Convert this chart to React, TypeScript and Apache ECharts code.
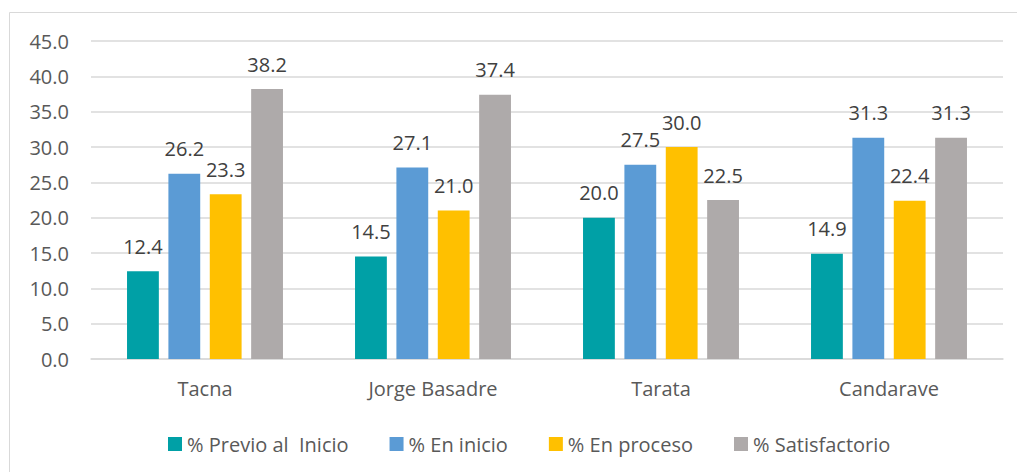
import React, { useEffect, useRef } from "react";
import * as echarts from "echarts";

const categories = ["Tacna", "Jorge Basadre", "Tarata", "Candarave"];
const seriesNames = ["% Previo al  Inicio", "% En inicio", "% En proceso", "% Satisfactorio"];
const previoInicio = [12.4, 14.5, 20.0, 14.9];
const enInicio = [26.2, 27.1, 27.5, 31.3];
const enProceso = [23.3, 21.0, 30.0, 22.4];
const satisfactorio = [38.2, 37.4, 22.5, 31.3];
const colors = ["#00A0A6", "#5B9BD5", "#FFC000", "#AEAAAA"];

const FONT = "Open Sans";
const TXT = "#595959";

export default function App() {
  const ref = useRef<HTMLDivElement>(null);
  useEffect(() => {
    if (!ref.current) return;
    const chart = echarts.init(ref.current, undefined, { renderer: "svg" });
    const data = [previoInicio, enInicio, enProceso, satisfactorio];
    chart.setOption({
      animation: false,
      textStyle: { fontFamily: FONT },
      graphic: [
        {
          type: "rect",
          shape: { x: 9.5, y: 12.5, width: 1100, height: 600 },
          style: { fill: "none", stroke: "#D9D9D9", lineWidth: 1 },
          silent: true,
        },
      ],
      legend: {
        left: 163,
        top: 429,
        itemWidth: 14,
        itemHeight: 14,
        itemGap: 41,
        icon: "rect",
        textStyle: { color: TXT, fontSize: 20, fontFamily: FONT },
        data: seriesNames,
      },
      grid: { left: 91, right: 14, top: 41, bottom: 113, containLabel: false },
      xAxis: {
        type: "category",
        data: categories,
        axisLine: { lineStyle: { color: "#D9D9D9", width: 1.5 } },
        axisTick: { show: false },
        axisLabel: { color: TXT, fontSize: 20, fontFamily: FONT, margin: 19 },
      },
      yAxis: {
        type: "value",
        min: 0,
        max: 45,
        interval: 5,
        axisLine: { show: false },
        axisTick: { show: false },
        splitLine: { lineStyle: { color: "#D9D9D9", width: 1.5 } },
        axisLabel: {
          color: TXT,
          fontSize: 20,
          fontFamily: FONT,
          margin: 22,
          formatter: (v: number) => v.toFixed(1),
        },
      },
      series: seriesNames.map((name, i) => ({
        name,
        type: "bar",
        data: data[i],
        barGap: "30%",
        barCategoryGap: "31.6%",
        itemStyle: { color: colors[i] },
        label: {
          show: true,
          position: "top",
          distance: 15,
          color: "#404040",
          fontSize: 20,
          fontFamily: FONT,
          formatter: (p: any) => Number(p.value).toFixed(1),
        },
      })),
    });
    return () => chart.dispose();
  }, []);
  return (
    <div
      ref={ref}
      style={{ position: "fixed", left: 0, top: 0, width: 1017, height: 472, background: "#fff" }}
    />
  );
}
